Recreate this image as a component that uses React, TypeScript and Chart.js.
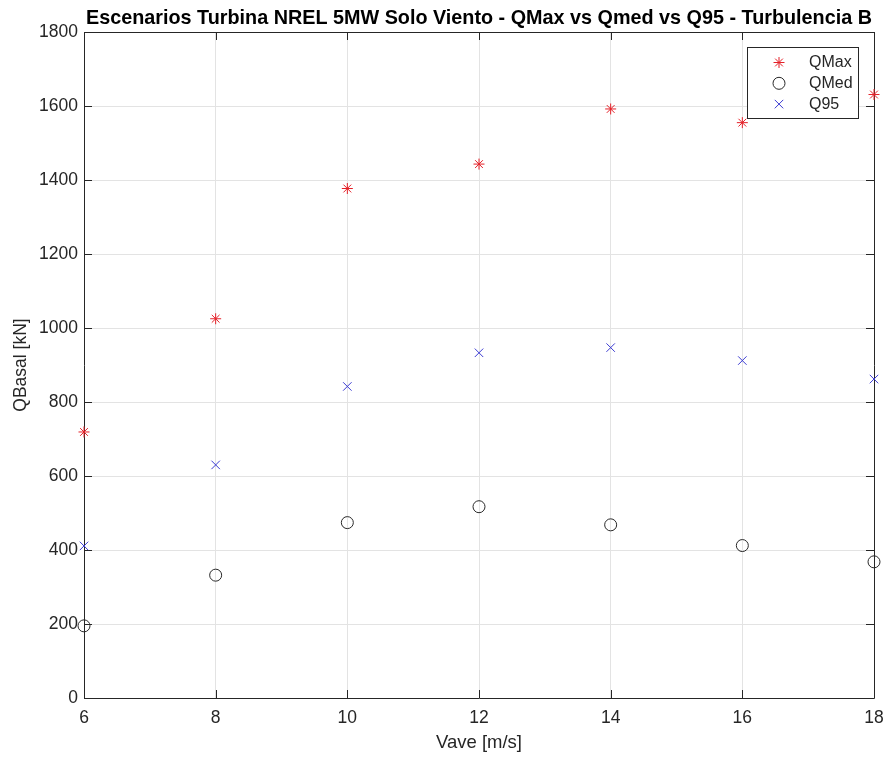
import { useEffect, useRef } from "react";
import { Chart, registerables } from "chart.js";
import { drawPoint } from "chart.js/helpers";

Chart.register(...registerables);

// Wind speed scenarios [m/s]
const windSpeeds = [6, 8, 10, 12, 14, 16, 18];
// Base shear [kN] per scenario
const qMax = [719, 1025, 1377, 1443, 1592, 1555, 1631];
const qMed = [195, 332, 474, 517, 468, 412, 368];
const q95 = [411, 630, 842, 933, 947, 912, 862];

const xTicks = [6, 8, 10, 12, 14, 16, 18];
const yTicks = [0, 200, 400, 600, 800, 1000, 1200, 1400, 1600, 1800];

const seriesLabels = ["QMax", "QMed", "Q95"];
const titleText = "Escenarios Turbina NREL 5MW Solo Viento - QMax vs Qmed vs Q95 - Turbulencia B";
const xTitle = "Vave [m/s]";
const yTitle = "QBasal [kN]";

const FONT = "'Liberation Sans', Arial, Helvetica, sans-serif";
const AXIS_COLOR = "#262626";
const GRID_COLOR = "#e3e3e3";

// Axes box with inward tick marks on all four sides
const framePlugin = {
  id: "frameTicks",
  beforeDatasetsDraw(chart: any) {
    const { ctx, chartArea, scales } = chart;
    const { left, right, top, bottom } = chartArea;
    const len = 8;
    ctx.save();
    ctx.strokeStyle = AXIS_COLOR;
    ctx.lineWidth = 1;
    ctx.beginPath();
    ctx.rect(Math.round(left) + 0.5, Math.round(top) + 0.5, Math.round(right - left), Math.round(bottom - top));
    for (const t of scales.x.ticks) {
      const px = Math.round(scales.x.getPixelForValue(t.value)) + 0.5;
      ctx.moveTo(px, bottom);
      ctx.lineTo(px, bottom - len);
      ctx.moveTo(px, top);
      ctx.lineTo(px, top + len);
    }
    for (const t of scales.y.ticks) {
      const py = Math.round(scales.y.getPixelForValue(t.value)) + 0.5;
      ctx.moveTo(left, py);
      ctx.lineTo(left + len, py);
      ctx.moveTo(right, py);
      ctx.lineTo(right - len, py);
    }
    ctx.stroke();
    ctx.restore();
  },
};

// Title centred over the axes
const titlePlugin = {
  id: "axesTitle",
  afterDraw(chart: any) {
    const { ctx, chartArea } = chart;
    ctx.save();
    ctx.fillStyle = "#000";
    ctx.font = `bold 19.8px ${FONT}`;
    ctx.textAlign = "center";
    ctx.textBaseline = "middle";
    ctx.fillText(titleText, (chartArea.left + chartArea.right) / 2, 19);
    ctx.restore();
  },
};

// Boxed legend in the upper-right corner of the axes
const legendPlugin = {
  id: "boxLegend",
  afterDraw(chart: any) {
    const { ctx, chartArea } = chart;
    const w = 111;
    const h = 71;
    const x0 = Math.round(chartArea.right - 16 - w);
    const y0 = Math.round(chartArea.top + 15);
    ctx.save();
    ctx.fillStyle = "#fff";
    ctx.fillRect(x0, y0, w, h);
    ctx.strokeStyle = AXIS_COLOR;
    ctx.lineWidth = 1;
    ctx.strokeRect(x0 + 0.5, y0 + 0.5, w, h);
    ctx.font = `16px ${FONT}`;
    ctx.textBaseline = "middle";
    ctx.textAlign = "left";
    chart.data.datasets.forEach((ds: any, i: number) => {
      const cy = y0 + 15.5 + i * 20.8;
      ctx.strokeStyle = ds.borderColor;
      ctx.fillStyle = "rgba(0,0,0,0)";
      drawPoint(ctx, { pointStyle: ds.pointStyle, radius: ds.pointRadius, borderWidth: 1, rotation: 0 }, x0 + 32, cy);
      ctx.fillStyle = AXIS_COLOR;
      ctx.fillText(ds.label, x0 + 62, cy);
    });
    ctx.restore();
  },
};

export default function App() {
  const canvasRef = useRef<HTMLCanvasElement | null>(null);

  useEffect(() => {
    const canvas = canvasRef.current;
    if (!canvas) return;
    const toPoints = (vals: number[]) => windSpeeds.map((x, i) => ({ x, y: vals[i] }));
    const chart = new Chart(canvas, {
      type: "scatter",
      data: {
        datasets: [
          {
            label: seriesLabels[0],
            data: toPoints(qMax),
            pointStyle: "star",
            pointRadius: 5.5,
            pointHoverRadius: 5.5,
            borderColor: "rgb(228,32,40)",
            backgroundColor: "rgba(0,0,0,0)",
            pointBorderWidth: 1,
            clip: false,
          },
          {
            label: seriesLabels[1],
            data: toPoints(qMed),
            pointStyle: "circle",
            pointRadius: 6,
            pointHoverRadius: 6,
            borderColor: "rgb(40,40,40)",
            backgroundColor: "rgba(0,0,0,0)",
            pointBorderWidth: 1,
            clip: false,
          },
          {
            label: seriesLabels[2],
            data: toPoints(q95),
            pointStyle: "crossRot",
            pointRadius: 6,
            pointHoverRadius: 6,
            borderColor: "rgb(60,60,210)",
            backgroundColor: "rgba(0,0,0,0)",
            pointBorderWidth: 1,
            clip: false,
          },
        ],
      },
      options: {
        responsive: false,
        animation: false,
        events: [],
        layout: { padding: { left: 0, right: 17, top: 32, bottom: 0 } },
        plugins: {
          legend: { display: false },
          title: { display: false },
          tooltip: { enabled: false },
        },
        scales: {
          x: {
            type: "linear",
            min: 6,
            max: 18,
            afterBuildTicks: (s: any) => {
              s.ticks = xTicks.map((v) => ({ value: v }));
            },
            afterFit: (s: any) => {
              s.height = 61;
              s.paddingLeft = 0;
              s.paddingRight = 0;
            },
            ticks: {
              color: AXIS_COLOR,
              font: { family: FONT, size: 17.5 },
              padding: 10,
              maxRotation: 0,
              autoSkip: false,
              callback: (v: any) => String(v),
            },
            grid: { color: GRID_COLOR, drawTicks: false, lineWidth: 1 },
            border: { display: false },
            title: {
              display: true,
              text: xTitle,
              color: AXIS_COLOR,
              font: { family: FONT, size: 18.5 },
              padding: { top: 0, bottom: 5 },
            },
          },
          y: {
            type: "linear",
            min: 0,
            max: 1800,
            afterBuildTicks: (s: any) => {
              s.ticks = yTicks.map((v) => ({ value: v }));
            },
            afterFit: (s: any) => {
              s.width = 84;
              s.paddingTop = 0;
              s.paddingBottom = 0;
            },
            ticks: {
              color: AXIS_COLOR,
              font: { family: FONT, size: 17.5 },
              padding: 6,
              autoSkip: false,
              callback: (v: any) => String(v),
            },
            grid: { color: GRID_COLOR, drawTicks: false, lineWidth: 1 },
            border: { display: false },
            title: {
              display: true,
              text: yTitle,
              color: AXIS_COLOR,
              font: { family: FONT, size: 17.5 },
              padding: { top: 10.5, bottom: 0 },
            },
          },
        },
      },
      plugins: [framePlugin, titlePlugin, legendPlugin],
    });
    return () => chart.destroy();
  }, []);

  return (
    <div style={{ position: "fixed", left: 0, top: 0, width: 891, height: 759, background: "#fff" }}>
      <canvas ref={canvasRef} width={891} height={759} style={{ display: "block" }} />
    </div>
  );
}
